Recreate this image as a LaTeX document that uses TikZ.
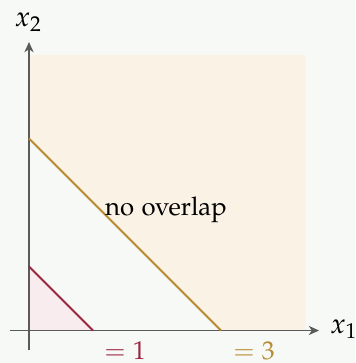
\documentclass[tikz,border=0pt]{standalone}
\usepackage[T1]{fontenc}
\usepackage[sc]{mathpazo}
\usetikzlibrary{arrows.meta}
\definecolor{bgc}{RGB}{247,249,246}
\definecolor{peachc}{RGB}{250,242,229}
\definecolor{pinkc}{RGB}{248,236,238}
\definecolor{redc}{RGB}{155,38,64}
\definecolor{orc}{RGB}{183,137,48}
\definecolor{axisc}{RGB}{90,90,90}
\tikzset{
  axisline/.style={draw=axisc, line width=0.5pt},
  arrowaxis/.style={axisline, -{Stealth[length=4pt,width=3.6pt,inset=1.2pt]}},
  lbl/.style={inner sep=0pt, outer sep=0pt},
  axlbl/.style={lbl, font=\fontsize{11}{13}\selectfont},
}
\begin{document}
\begin{tikzpicture}[x=0.389pt,y=-0.389pt]
\fill[bgc] (0,0) rectangle (355,363);
\useasboundingbox (0,0) rectangle (355,363);
\coordinate (O) at (29,330.5);
\coordinate (A1) at (93,330.5);
\coordinate (B1) at (29,266.5);
\coordinate (A3) at (221,330.5);
\coordinate (B3) at (29,138.5);
\coordinate (BR) at (305.5,330.5);
\coordinate (TR) at (305.5,55);
\coordinate (TL) at (29,55);
\coordinate (XL) at (10,330.5);
\coordinate (XR) at (319,330.5);
\coordinate (YB) at (29,350);
\coordinate (YT) at (29,42);
\fill[peachc] (A3) -- (BR) -- (TR) -- (TL) -- (B3) -- cycle;
\fill[pinkc] (O) -- (A1) -- (B1) -- cycle;
\draw[arrowaxis] (XL) -- (XR);
\draw[arrowaxis] (YB) -- (YT);
\draw[redc, line width=0.8pt] (B1) -- (A1);
\draw[orc, line width=0.8pt] (B3) -- (A3);
\node[axlbl] (x1) at (344,329.5) {$x_1$};
\node[axlbl] (x2) at (28.5,22) {$x_2$};
\node[lbl] (no) at (166,210) {no overlap};
\node[lbl, text=redc] (e1) at (125,351) {$=1$};
\node[lbl, text=orc] (e3) at (254,351) {$=3$};
\end{tikzpicture}
\end{document}
